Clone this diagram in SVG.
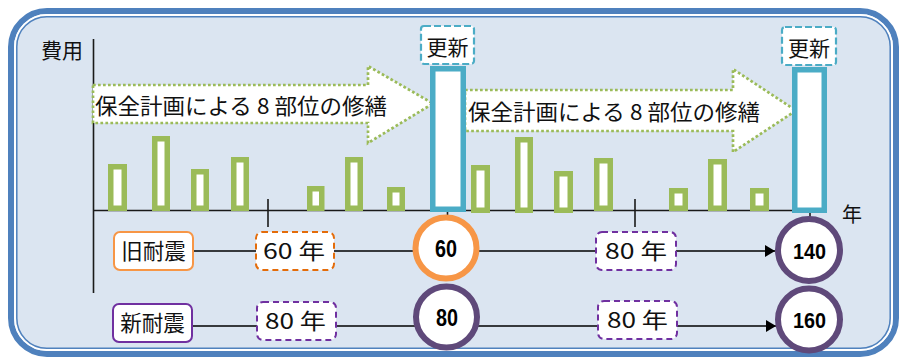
<svg xmlns="http://www.w3.org/2000/svg" width="899" height="357" viewBox="0 0 899 357">
<style>
.jp{font-family:"Noto Sans CJK JP","Noto Sans",sans-serif;fill:#111}
.num{font-family:"Liberation Sans",Arial,sans-serif;font-weight:bold;fill:#000}
.gbar{fill:#fff;stroke:#9bbb59;stroke-width:5.5}
.bbar{fill:#fff;stroke:#4bacc6;stroke-width:5.5}
.garrow{fill:#fff;stroke:#9bbb59;stroke-width:2.7;stroke-dasharray:2.7 2.3}
.upd{fill:#fff;stroke:#4bacc6;stroke-width:2.2;stroke-dasharray:7 3}
.line{stroke:#000;stroke-width:1.6;fill:none}
.axis{stroke:#1a1a1a;stroke-width:1.6;fill:none}
</style>
<defs>
<marker id="ah" markerUnits="userSpaceOnUse" markerWidth="11" markerHeight="13" refX="10" refY="6" orient="auto">
<path d="M0,0 L10,6 L0,12 Z" fill="#000"/>
</marker>
</defs>
<g id="frame">
<rect x="11" y="11" width="885" height="343" rx="36" fill="#dbe5f1" stroke="#4f81bd" stroke-width="6"/>
<rect x="15" y="15" width="877" height="335" rx="32" fill="none" stroke="#fff" stroke-width="2"/>
<rect x="16.8" y="16.8" width="873.4" height="331.4" rx="30" fill="none" stroke="#4f81bd" stroke-width="1.5"/>
</g>
<g id="axes">
<line class="axis" x1="93.5" y1="39" x2="93.5" y2="293"/>
<line class="axis" x1="93" y1="210.5" x2="795" y2="210.5"/>
<line class="axis" x1="268" y1="199" x2="268" y2="227"/>
<line class="axis" x1="635" y1="199" x2="635" y2="227"/>
<line class="axis" x1="447.5" y1="211" x2="447.5" y2="216"/>
<line class="axis" x1="810" y1="211" x2="810" y2="218"/>
<text class="jp" x="41" y="58" font-size="21">費用</text>
<text class="jp" x="842" y="221.5" font-size="20">年</text>
</g>
<g id="arrow1">
<path class="garrow" d="M93,85 L368,85 L368,66 L433,103.5 L368,143 L368,123 L93,123 Z"/>
<text class="jp" x="95" y="114" font-size="21.5" textLength="292" lengthAdjust="spacingAndGlyphs">保全計画による 8 部位の修繕</text>
</g>
<g id="arrow2">
<path class="garrow" d="M465,90 L733,90 L733,69 L796,110.5 L733,152 L733,131 L465,131 Z"/>
<text class="jp" x="468" y="120" font-size="21.5" textLength="292" lengthAdjust="spacingAndGlyphs">保全計画による 8 部位の修繕</text>
</g>
<g id="bars">
<rect class="gbar" x="110.75" y="166.75" width="13.5" height="41.5"/>
<rect class="gbar" x="154.75" y="138.75" width="12.5" height="69.5"/>
<rect class="gbar" x="193.75" y="171.75" width="12.5" height="36.5"/>
<rect class="gbar" x="233.75" y="159.75" width="12.5" height="48.5"/>
<rect class="gbar" x="309.75" y="188.75" width="12" height="19.5"/>
<rect class="gbar" x="347.75" y="159.75" width="12.5" height="48.5"/>
<rect class="gbar" x="389.75" y="189.75" width="12.5" height="18.5"/>
<rect class="gbar" x="473.75" y="167.75" width="13.5" height="42.5"/>
<rect class="gbar" x="517.75" y="139.75" width="12.5" height="70.5"/>
<rect class="gbar" x="556.75" y="173.75" width="13.5" height="36.5"/>
<rect class="gbar" x="596.75" y="160.75" width="13.5" height="47.5"/>
<rect class="gbar" x="671.75" y="190.75" width="13.5" height="17.5"/>
<rect class="gbar" x="710.75" y="161.75" width="13.5" height="46.5"/>
<rect class="gbar" x="752.75" y="190.75" width="13.5" height="17.5"/>
</g>
<g id="renew1">
<rect class="bbar" x="432.75" y="68.75" width="30.5" height="140.5"/>
<rect class="upd" x="421" y="26" width="53" height="38" rx="3"/>
<text class="jp" x="447.5" y="54.5" font-size="21" text-anchor="middle">更新</text>
</g>
<g id="renew2">
<rect class="bbar" x="794.75" y="69.75" width="29.5" height="140.5"/>
<rect class="upd" x="782" y="27" width="54" height="38" rx="3"/>
<text class="jp" x="809" y="55.5" font-size="21" text-anchor="middle">更新</text>
</g>
<g id="connectors">
<line class="line" x1="194" y1="251" x2="775" y2="251" marker-end="url(#ah)"/>
<line class="line" x1="193" y1="326" x2="776" y2="326" marker-end="url(#ah)"/>
</g>
<g id="old">
<rect x="114" y="232" width="79" height="38" rx="6" fill="#fff" stroke="#f79646" stroke-width="2"/>
<text class="jp" x="153.5" y="259" font-size="21.5" text-anchor="middle">旧耐震</text>
</g>
<g id="new">
<rect x="113" y="304" width="79" height="38" rx="6" fill="#fff" stroke="#7030a0" stroke-width="2"/>
<text class="jp" x="152.5" y="330.5" font-size="21.5" text-anchor="middle">新耐震</text>
</g>
<g id="y60">
<rect x="256" y="232" width="78" height="38" rx="6" fill="#fff" stroke="#e46c0a" stroke-width="2" stroke-dasharray="6 4"/>
<text class="jp" x="263" y="259" font-size="22" textLength="62" lengthAdjust="spacingAndGlyphs">60 年</text>
</g>
<g id="y80a">
<rect x="257" y="302" width="79" height="38" rx="6" fill="#fff" stroke="#7030a0" stroke-width="2" stroke-dasharray="6 4"/>
<text class="jp" x="265" y="329" font-size="22" textLength="61" lengthAdjust="spacingAndGlyphs">80 年</text>
</g>
<g id="y80b">
<rect x="596" y="232" width="80" height="38" rx="6" fill="#fff" stroke="#7030a0" stroke-width="2" stroke-dasharray="6 4"/>
<text class="jp" x="605" y="259" font-size="22" textLength="62" lengthAdjust="spacingAndGlyphs">80 年</text>
</g>
<g id="y80c">
<rect x="598" y="301" width="79" height="38" rx="6" fill="#fff" stroke="#7030a0" stroke-width="2" stroke-dasharray="6 4"/>
<text class="jp" x="607" y="328" font-size="22" textLength="61" lengthAdjust="spacingAndGlyphs">80 年</text>
</g>
<g id="c60">
<circle cx="446" cy="248" r="30.5" fill="#fff" stroke="#f79646" stroke-width="6"/>
<text class="num" x="435" y="257" font-size="24" textLength="22" lengthAdjust="spacingAndGlyphs">60</text>
</g>
<g id="c80">
<circle cx="446.5" cy="317" r="30.5" fill="#fff" stroke="#5f497a" stroke-width="6"/>
<text class="num" x="436" y="326" font-size="24" textLength="22" lengthAdjust="spacingAndGlyphs">80</text>
</g>
<g id="c140">
<circle cx="809" cy="250" r="31" fill="#fff" stroke="#5f497a" stroke-width="6"/>
<text class="num" x="793" y="258.5" font-size="22" textLength="33" lengthAdjust="spacingAndGlyphs">140</text>
</g>
<g id="c160">
<circle cx="809" cy="319.5" r="31" fill="#fff" stroke="#5f497a" stroke-width="6"/>
<text class="num" x="793" y="327.5" font-size="22" textLength="33" lengthAdjust="spacingAndGlyphs">160</text>
</g>
</svg>
